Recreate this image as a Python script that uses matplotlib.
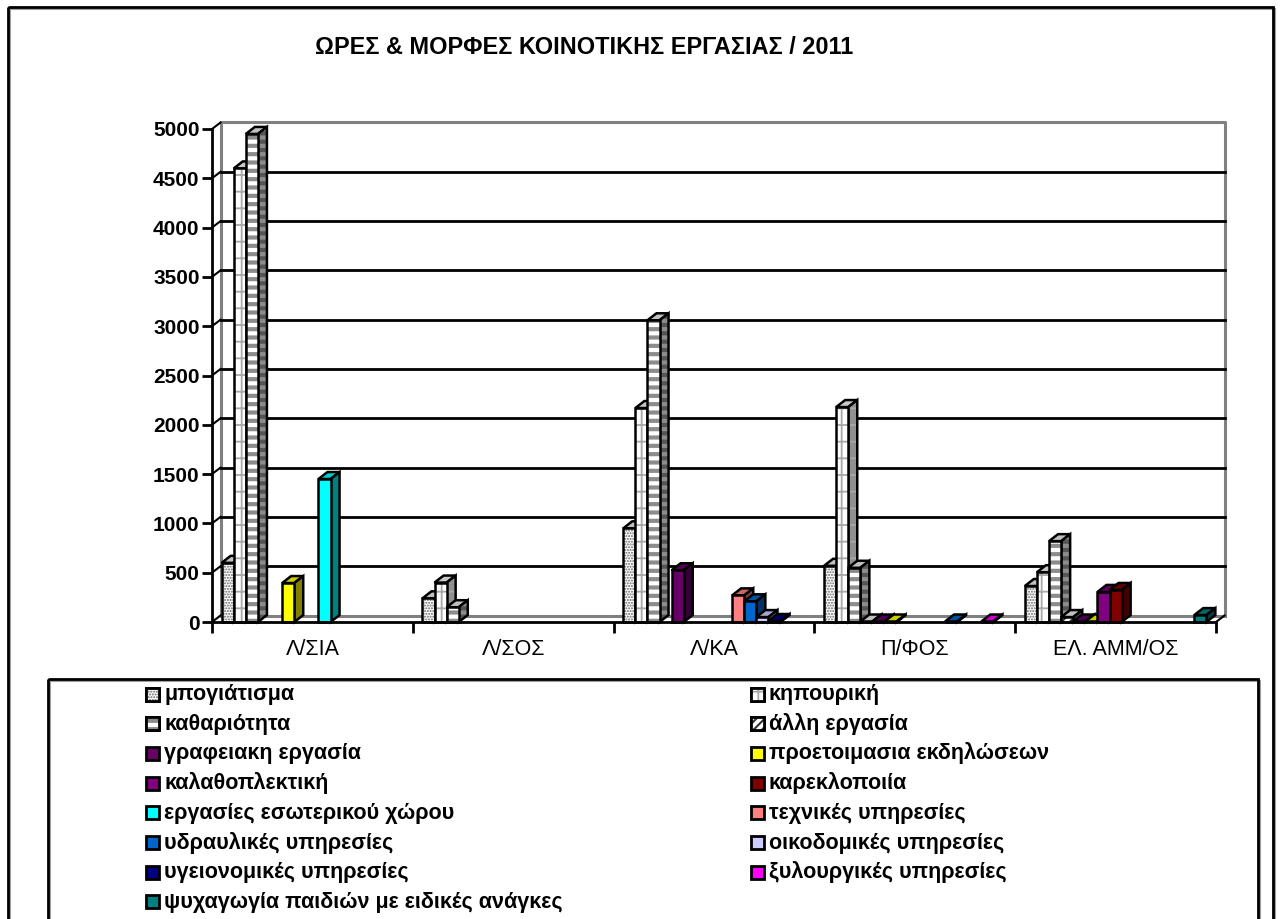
import numpy as np
import matplotlib
matplotlib.use("Agg")
import matplotlib.pyplot as plt
from matplotlib.patches import Polygon, Rectangle

plt.rcParams["font.family"] = ["Liberation Sans", "DejaVu Sans"]

categories = ["Λ/ΣΙΑ", "Λ/ΣΟΣ", "Λ/ΚΑ", "Π/ΦΟΣ", "ΕΛ. ΑΜΜ/ΟΣ"]
y_ticks = [0, 500, 1000, 1500, 2000, 2500, 3000, 3500, 4000, 4500, 5000]

mpogiatisma = [600, 240, 950, 570, 365]
kipouriki = [4600, 400, 2170, 2180, 505]
katharioTita = [4950, 150, 3060, 550, 820]
alli = [0, 0, 0, 5, 50]
grafeiaki = [0, 0, 525, 5, 5]
proetoimasia = [395, 0, 0, 5, 5]
kalathoplektiki = [0, 0, 0, 0, 305]
karekloppoiia = [0, 0, 0, 0, 325]
esoterikou = [1450, 0, 0, 0, 0]
texnikes = [0, 0, 270, 0, 0]
ydravlikes = [0, 0, 210, 5, 0]
oikodomikes = [0, 0, 50, 0, 0]
ygeionomikes = [0, 0, 10, 0, 0]
xyloyrgikes = [0, 0, 0, 5, 0]
psyxagogia = [0, 0, 0, 0, 70]

# name, values, front, hatch colour, hatch, hatch width, top, side
series = [
    ("μπογιάτισμα", mpogiatisma, "white", "#666666", "......", 1.0, "#c0c0c0", "#808080"),
    ("κηπουρική", kipouriki, "white", "#a8a8a8", "+", 1.3, "#c8c8c8", "#909090"),
    ("καθαριότητα", katharioTita, "white", "#8c8c8c", "--", 3.0, "#c0c0c0", "#555555"),
    ("άλλη εργασία", alli, "white", "#333333", "////", 1.5, "#c0c0c0", "#555555"),
    ("γραφειακη εργασία", grafeiaki, "#660066", None, None, 0, "#520052", "#330033"),
    ("προετοιμασια εκδηλώσεων", proetoimasia, "#ffff00", None, None, 0, "#cccc00", "#808000"),
    ("καλαθοπλεκτική", kalathoplektiki, "#800080", None, None, 0, "#660066", "#400040"),
    ("καρεκλοποιία", karekloppoiia, "#800000", None, None, 0, "#660000", "#400000"),
    ("εργασίες εσωτερικού χώρου", esoterikou, "#00ffff", None, None, 0, "#00cccc", "#008080"),
    ("τεχνικές υπηρεσίες", texnikes, "#ff8080", None, None, 0, "#cc6666", "#804040"),
    ("υδραυλικές υπηρεσίες", ydravlikes, "#0066cc", None, None, 0, "#0052a3", "#003366"),
    ("οικοδομικές υπηρεσίες", oikodomikes, "#ccccff", None, None, 0, "#a3a3cc", "#666680"),
    ("υγειονομικές υπηρεσίες", ygeionomikes, "#000080", None, None, 0, "#000066", "#000040"),
    ("ξυλουργικές υπηρεσίες", xyloyrgikes, "#ff00ff", None, None, 0, "#cc00cc", "#800080"),
    ("ψυχαγωγία παιδιών με ειδικές ανάγκες", psyxagogia, "#008080", None, None, 0, "#006666", "#004040"),
]

W, H = 1280, 919
fig = plt.figure(figsize=(W / 100, H / 100), dpi=100, facecolor="white")

# full-figure pixel layer for the frame and legend box
bg = fig.add_axes([0, 0, 1, 1])
bg.set_xlim(0, W)
bg.set_ylim(H, 0)
bg.axis("off")
bg.add_patch(Rectangle((9.5, 8.5), 1265, 950, fc="none", ec="#a0a0a0", lw=1.5))
bg.add_patch(Rectangle((8, 7), 1265, 950, fc="none", ec="black", lw=2))
bg.add_patch(Rectangle((49.5, 680.5), 1210, 300, fc="none", ec="#a0a0a0", lw=1.5, zorder=1))
bg.add_patch(Rectangle((48, 679), 1210, 300, fc="none", ec="black", lw=2, zorder=1))

bg.text(315, 47, "ΩΡΕΣ & ΜΟΡΦΕΣ ΚΟΙΝΟΤΙΚΗΣ ΕΡΓΑΣΙΑΣ / 2011", fontsize=16.9,
        fontweight="bold", va="center", ha="left")

# front plane of the chart
x0, x1, y0, y5k = 212, 1216, 622, 129
ax = fig.add_axes([x0 / W, 1 - y0 / H, (x1 - x0) / W, (y0 - y5k) / H])
ax.set_xlim(0, 5)
ax.set_ylim(0, 5000)
ax.patch.set_alpha(0)
px = (x1 - x0) / 5
py = (y0 - y5k) / 5000
dx, dy = 8.5 / px, 6.5 / py
bar_dx, bar_dy = 9 / px, 7 / py

# back wall, floor and grid
ax.plot([dx, dx, 5 + dx, 5 + dx], [dy, 5000 + dy, 5000 + dy, dy], color="#808080", lw=2.2,
        clip_on=False, zorder=1, solid_capstyle="butt")
ax.plot([dx, 5 + dx], [dy, dy], color="#808080", lw=2.2, clip_on=False, zorder=1)
ax.plot([5, 5 + dx], [0, dy], color="black", lw=1.5, clip_on=False, zorder=1)
for v in y_ticks[1:-1]:
    ax.plot([dx, 5 + dx], [v + dy, v + dy], color="black", lw=2, clip_on=False, zorder=1)
for v in y_ticks:
    ax.plot([0, dx], [v, v + dy], color="black", lw=1.5, clip_on=False, zorder=1)

# bars, later series sit in front of earlier ones
n = len(series)
bw = 12.1 / px
pad = (1 - n * bw) / 2
outline = dict(edgecolor="black", linewidth=1.8, joinstyle="miter")
for i, (name, values, front, hcol, hatch, hlw, top, side) in enumerate(series):
    if hatch:
        plt.rcParams["hatch.linewidth"] = hlw
    for c, v in enumerate(values):
        if v <= 0:
            continue
        left = c + pad + i * bw
        z = 3 + i * 0.1
        ax.add_patch(Polygon([(left, v), (left + bar_dx, v + bar_dy), (left + bw + bar_dx, v + bar_dy), (left + bw, v)],
                             facecolor=top, clip_on=False, zorder=z, **outline))
        side_pts = [(left + bw, 0), (left + bw + bar_dx, bar_dy), (left + bw + bar_dx, v + bar_dy), (left + bw, v)]
        ax.add_patch(Polygon(side_pts, facecolor=side, clip_on=False, zorder=z, edgecolor="none"))
        if hatch:
            ax.add_patch(Polygon(side_pts, facecolor="none", edgecolor=hcol, hatch=hatch, linewidth=0,
                                 clip_on=False, zorder=z))
        ax.add_patch(Polygon(side_pts, facecolor="none", clip_on=False, zorder=z, **outline))
        if hatch:
            ax.bar(left, v, bw, align="edge", color=front, edgecolor=hcol, hatch=hatch,
                   linewidth=0, zorder=z, clip_on=False)
            ax.bar(left, v, bw, align="edge", color="none", zorder=z, clip_on=False, **outline)
        else:
            ax.bar(left, v, bw, align="edge", color=front, zorder=z, clip_on=False, **outline)

# axes
for s in ["top", "right"]:
    ax.spines[s].set_visible(False)
for s in ["left", "bottom"]:
    ax.spines[s].set_linewidth(2)
    ax.spines[s].set_zorder(200)
ax.set_yticks(y_ticks)
ax.set_yticklabels([str(v) for v in y_ticks], fontsize=15, fontweight="bold")
ax.tick_params(axis="y", length=7, width=2, pad=2)
ax.set_xticks(range(6))
ax.set_xticklabels([])
ax.tick_params(axis="x", length=8, width=2)
for c, label in enumerate(categories):
    ax.text(c + 0.5, -280, label, ha="center", va="center", fontsize=15.5)

# legend drawn by hand, two columns like the original
leg_x = [146, 751]
leg_y0, leg_step = 694, 29.7
for i, s in enumerate(series):
    col = i % 2
    y = leg_y0 + (i // 2) * leg_step
    xl = leg_x[col]
    plt.rcParams["hatch.linewidth"] = s[5] if s[4] else 1.0
    bg.add_patch(Rectangle((xl, y - 6.5), 13, 13, fc=s[2], ec="black", lw=2, zorder=3))
    if s[4]:
        bg.add_patch(Rectangle((xl, y - 6.5), 13, 13, fc=s[2], ec=s[3], hatch=s[4], lw=0, zorder=3))
        bg.add_patch(Rectangle((xl, y - 6.5), 13, 13, fc="none", ec="black", lw=2, zorder=3))
    bg.text(xl + 18, y + 6, s[0], fontsize=15.5, fontweight="bold", va="baseline", ha="left", zorder=3)

fig.savefig("out.png", dpi=100)
